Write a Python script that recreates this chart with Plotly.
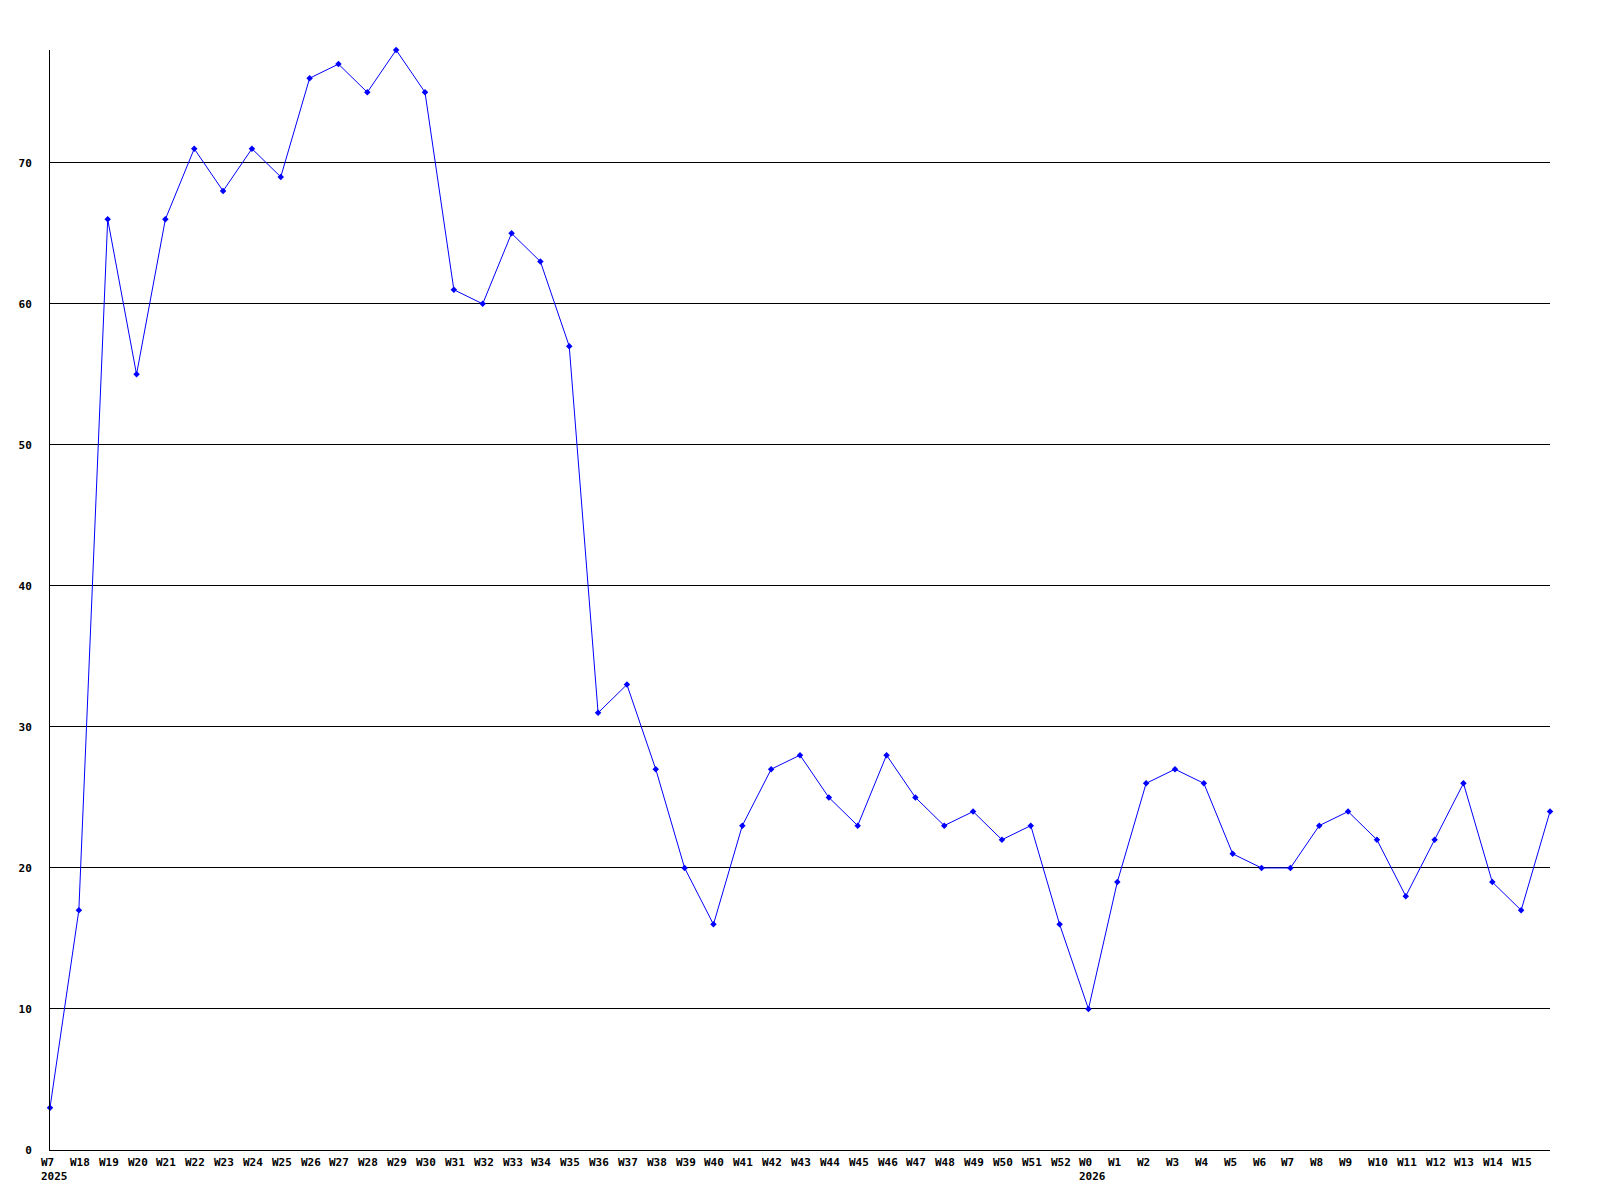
import plotly.graph_objects as go

# week keys (year-week), the label printed under each point, and the weekly count
week_keys = (
    ["2025-W07"]
    + [f"2025-W{w:02d}" for w in range(18, 53)]
    + [f"2026-W{w:02d}" for w in range(0, 17)]
)
week_labels = (
    ["W7<br>2025"]
    + [f"W{w}" for w in range(18, 53)]
    + ["W0<br>2026"]
    + [f"W{w}" for w in range(1, 16)]
    + [""]
)
counts = [
    3, 17, 66, 55, 66, 71, 68, 71, 69, 76, 77, 75, 78, 75, 61, 60, 65, 63, 57,
    31, 33, 27, 20, 16, 23, 27, 28, 25, 23, 28, 25, 23, 24, 22, 23, 16,
    10, 19, 26, 27, 26, 21, 20, 20, 23, 24, 22, 18, 22, 26, 19, 17, 24,
]
y_ticks = [0, 10, 20, 30, 40, 50, 60, 70]

FONT = dict(family="DejaVu Sans Mono", size=11, color="black", weight="bold")

fig = go.Figure()
fig.add_trace(
    go.Scatter(
        x=week_keys,
        y=counts,
        mode="lines+markers",
        line=dict(color="#0000ff", width=1),
        marker=dict(color="#0000ff", symbol="diamond", size=5),
        cliponaxis=False,
        hoverinfo="x+y",
    )
)

# left-aligned tick labels under each week
for key, label in zip(week_keys, week_labels):
    if not label:
        continue
    fig.add_annotation(
        x=key, y=0, xref="x", yref="paper",
        text=label, showarrow=False,
        xanchor="left", yanchor="top", align="left",
        xshift=-11, yshift=-4,
        font=FONT,
    )

# page body adds 8px around the figure, so the figure is 16px smaller
fig.update_layout(
    width=1584,
    height=1184,
    margin=dict(l=42, r=42, t=42, b=42),
    paper_bgcolor="white",
    plot_bgcolor="white",
    showlegend=False,
)
fig.update_xaxes(
    type="category",
    range=[0, len(week_keys) - 1],
    showgrid=False,
    zeroline=False,
    showline=True,
    linecolor="black",
    linewidth=1,
    showticklabels=False,
    ticks="",
    automargin=False,
)
fig.update_yaxes(
    range=[0, 78],
    tickvals=y_ticks,
    showgrid=True,
    gridcolor="black",
    gridwidth=1,
    zeroline=False,
    showline=True,
    linecolor="black",
    linewidth=1,
    ticks="",
    ticklabelstandoff=15,
    tickfont=FONT,
    automargin=False,
)

fig.write_html("out.html")
